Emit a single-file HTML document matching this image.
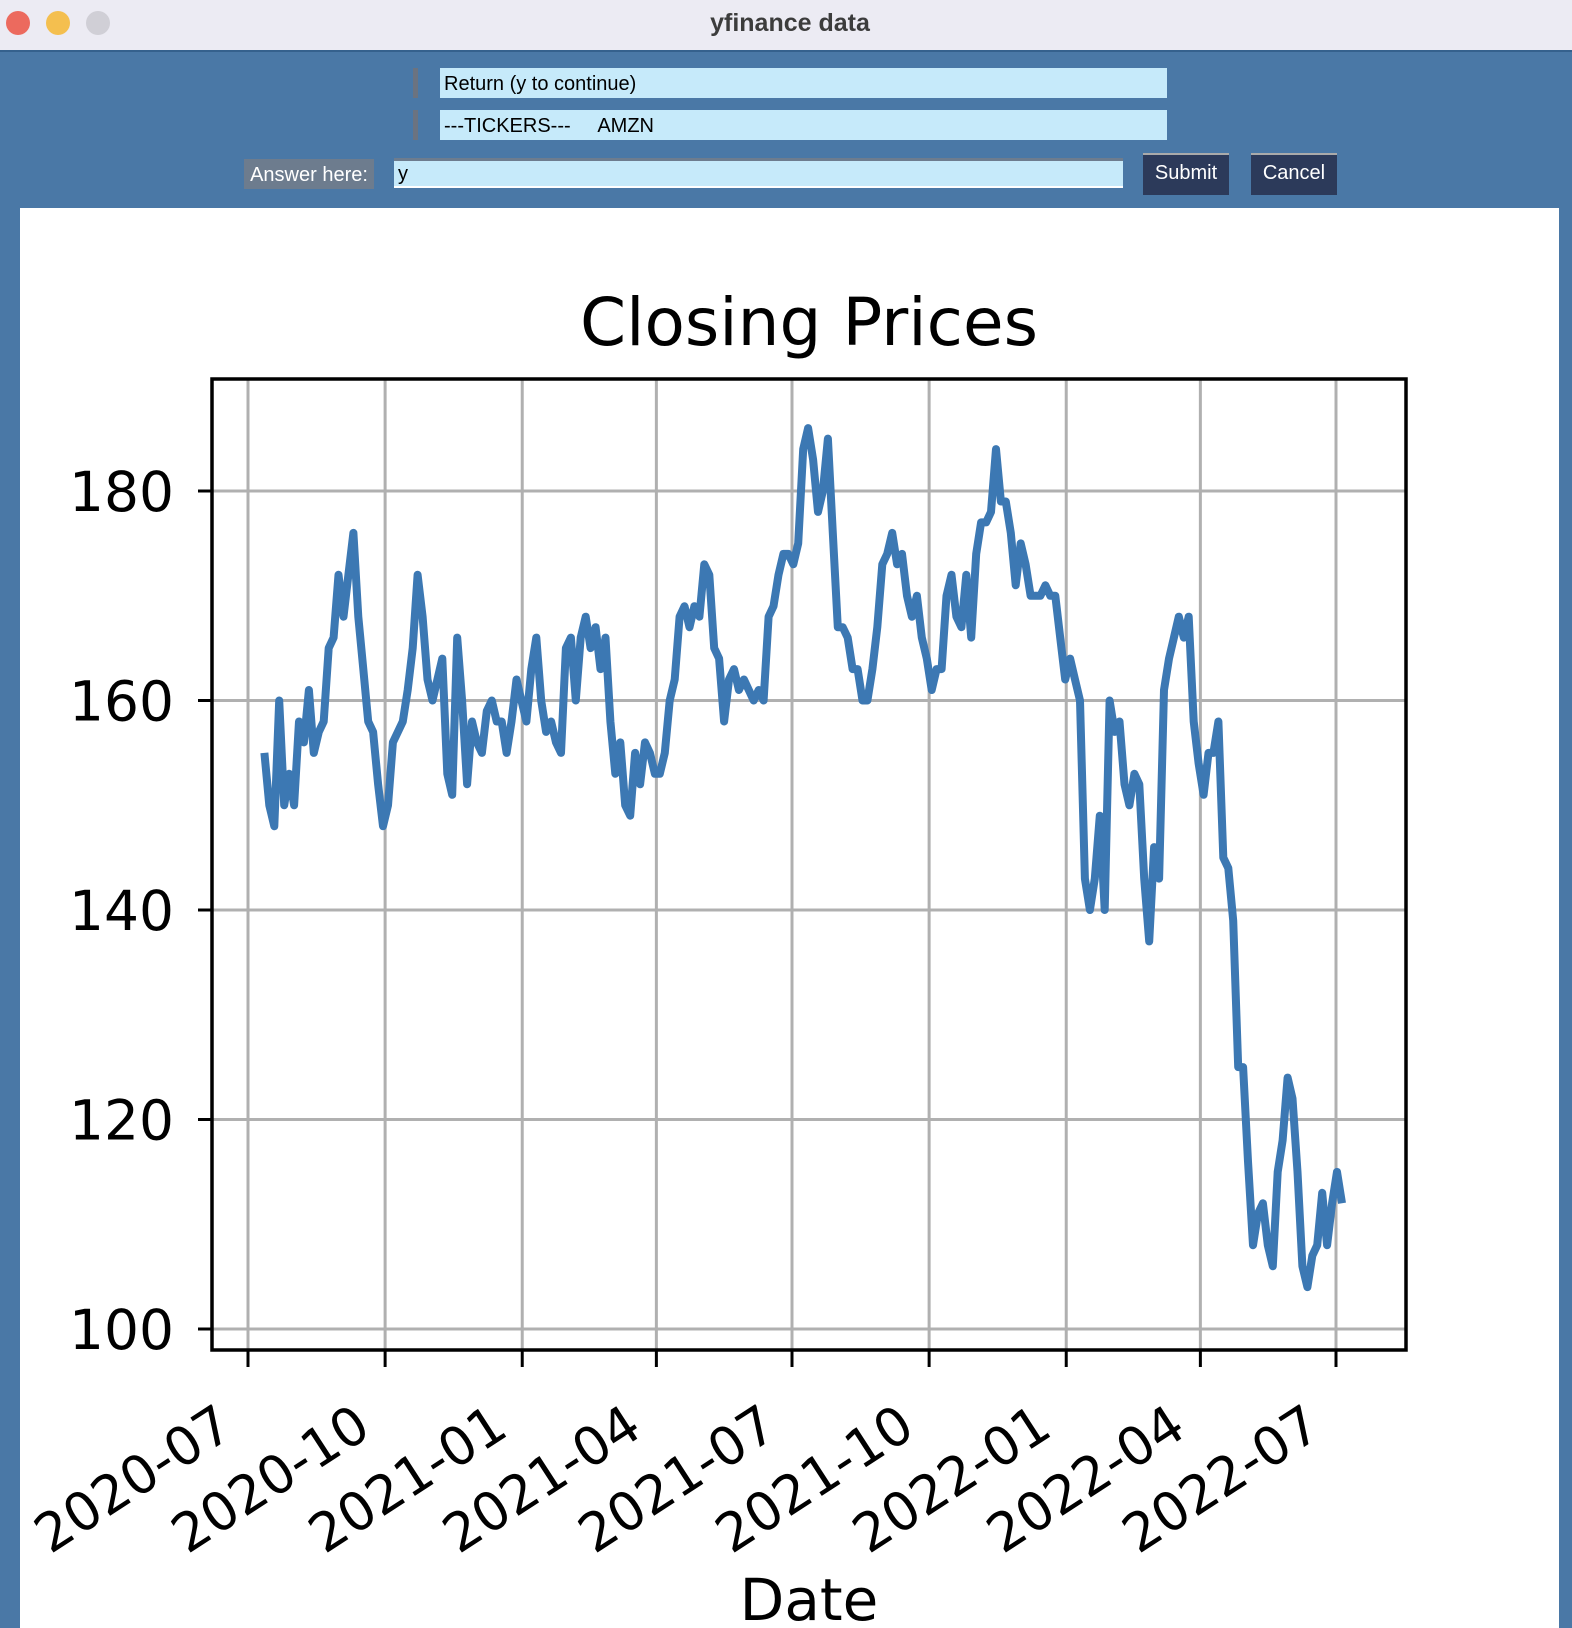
<!DOCTYPE html>
<html><head><meta charset="utf-8"><style>
body{margin:0;width:1572px;height:1628px;overflow:hidden;background:#4a78a6;font-family:"Liberation Sans",sans-serif;position:relative}
.abs{position:absolute}
</style></head><body>
<div class="abs" style="left:0;top:0;width:1572px;height:50px;background:#ecebf3;border-bottom:2px solid #35618d">
<div class="abs" style="left:6px;top:11px;width:24px;height:24px;border-radius:50%;background:#ec6a5e"></div>
<div class="abs" style="left:46px;top:11px;width:24px;height:24px;border-radius:50%;background:#f4bf4f"></div>
<div class="abs" style="left:86px;top:11px;width:24px;height:24px;border-radius:50%;background:#d0cfd6"></div>
<div class="abs" style="left:0;width:1580px;top:9px;text-align:center;font-weight:bold;font-size:25px;color:#3c3c3c">yfinance data</div>
</div>
<div class="abs" style="left:413px;top:68px;width:5px;height:30px;background:#6b7380"></div>
<div class="abs" style="left:440px;top:68px;width:727px;height:30px;background:#c6eafa;font-size:20px;line-height:32px;padding-left:4px;box-sizing:border-box">Return (y to continue)</div>
<div class="abs" style="left:413px;top:110px;width:5px;height:30px;background:#6b7380"></div>
<div class="abs" style="left:440px;top:110px;width:727px;height:30px;background:#c6eafa;font-size:20px;line-height:32px;padding-left:4px;box-sizing:border-box;white-space:pre">---TICKERS---     AMZN</div>
<div class="abs" style="left:244px;top:159px;width:130px;height:30px;background:#6d7c8e;color:#fff;font-size:20px;line-height:32px;text-align:center">Answer here:</div>
<div class="abs" style="left:394px;top:158px;width:729px;height:30px;background:#c6eafa;border-top:3px solid #6d7c8e;border-bottom:2px solid #fff;box-sizing:border-box;font-size:20px;line-height:26px;padding-left:4px">y</div>
<div class="abs" style="left:1143px;top:153px;width:86px;height:42px;background:#2c3a5a;border-top:2px solid #aaa;box-sizing:border-box;color:#fff;font-size:20px;line-height:36px;text-align:center">Submit</div>
<div class="abs" style="left:1251px;top:153px;width:86px;height:42px;background:#2c3a5a;border-top:2px solid #aaa;box-sizing:border-box;color:#fff;font-size:20px;line-height:36px;text-align:center">Cancel</div>
<div class="abs" style="left:20px;top:208px;width:1539px;height:1420px;background:#fff"></div>
<svg class="abs" style="left:0;top:0" width="1572" height="1628" font-family="DejaVu Sans, sans-serif">
<g id="grid"></g><g id="line"></g><g id="axes"></g>
</svg>
<script>
const tickLabelsX=["2020-07","2020-10","2021-01","2021-04","2021-07","2021-10","2022-01","2022-04","2022-07"];
const tickDaysX=[0,92,184,274,365,457,549,639,730];
const tickValuesY=[100,120,140,160,180];
const startDay=11, endDay=734;
const prices=[155,150,148,160,150,153,150,158,156,161,155,157,158,165,166,172,168,172,176,168,163,158,157,152,148,150,156,157,158,161,165,172,168,162,160,162,164,153,151,166,160,152,158,156,155,159,160,158,158,155,158,162,160,158,163,166,160,157,158,156,155,165,166,160,166,168,165,167,163,166,158,153,156,150,149,155,152,156,155,153,153,155,160,162,168,169,167,169,168,173,172,165,164,158,162,163,161,162,161,160,161,160,168,169,172,174,174,173,175,184,186,183,178,180,185,176,167,167,166,163,163,160,160,163,167,173,174,176,173,174,170,168,170,166,164,161,163,163,170,172,168,167,172,166,174,177,177,178,184,179,179,176,171,175,173,170,170,170,171,170,170,166,162,164,162,160,143,140,143,149,140,160,157,158,152,150,153,152,143,137,146,143,161,164,166,168,166,168,158,154,151,155,155,158,145,144,139,125,125,116,108,111,112,108,106,115,118,124,122,115,106,104,107,108,113,108,112,115,112];
const X0=248, PXD=(1336-248)/730;
const xs=d=>X0+d*PXD;
const ys=v=>491+(180-v)*(1329-491)/80;
const NS="http://www.w3.org/2000/svg";
function mk(tag,attrs,parent){const e=document.createElementNS(NS,tag);for(const k in attrs)e.setAttribute(k,attrs[k]);parent.appendChild(e);return e;}
const grid=document.getElementById('grid'),line=document.getElementById('line'),axes=document.getElementById('axes');
const L=212,R=1406,T=379,B=1350;
tickDaysX.forEach((d,i)=>{
 const x=xs(d);
 const g=mk('line',{x1:x,x2:x,y1:T,y2:B,stroke:'#b0b0b0','stroke-width':3},grid);
 
 
 const t=mk('line',{x1:x,x2:x,y1:B,y2:B+17,stroke:'#000','stroke-width':3},axes);
 
 
 const lb=mk('text',{x:x-12,y:B+84,'font-size':53,'text-anchor':'end',transform:`rotate(-33 ${x-12} ${B+84})`},axes);
 lb.textContent=tickLabelsX[i];
 
 
});
tickValuesY.forEach(v=>{
 const y=ys(v);
 const g=mk('line',{x1:L,x2:R,y1:y,y2:y,stroke:'#b0b0b0','stroke-width':3},grid);
 
 
 const t=mk('line',{x1:L-14,x2:L,y1:y,y2:y,stroke:'#000','stroke-width':3},axes);
 
 
 const lb=mk('text',{x:L-38,y:y+20,'font-size':55,'text-anchor':'end'},axes);
 lb.textContent=v;
 
 
});
const n=prices.length;
const pts=prices.map((v,i)=>xs(startDay+(endDay-startDay)*i/(n-1)).toFixed(1)+','+ys(v).toFixed(1)).join(' ');
const pl=mk('polyline',{points:pts,fill:'none',stroke:'#3c78b3','stroke-width':8,'stroke-linejoin':'round'},line);


const fr=mk('rect',{x:L,y:T,width:R-L,height:B-T,fill:'none',stroke:'#000','stroke-width':3.5},axes);


const ti=mk('text',{x:809,y:345,'font-size':66,'text-anchor':'middle',textLength:458},axes);
ti.textContent='Closing Prices';


const xl=mk('text',{x:809,y:1620,'font-size':58,'text-anchor':'middle'},axes);
xl.textContent='Date';


</script>
</body></html>
